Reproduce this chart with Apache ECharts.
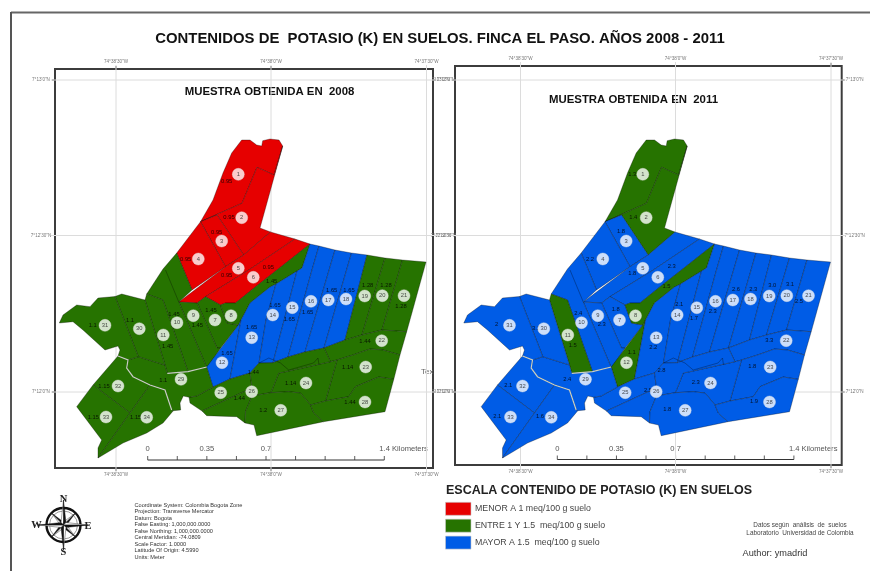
<!DOCTYPE html>
<html>
<head>
<meta charset="utf-8">
<style>
html, body { margin: 0; padding: 0; background: #fff; }
#chart { width: 870px; height: 571px; filter: blur(0.4px); }
</style>
<script src="https://cdn.jsdelivr.net/npm/echarts@6/dist/echarts.min.js"></script>
</head>
<body>
<div id="chart"></div>
<script>
// numero de cada lote (34 lotes)
const sampleIds = [...Array(34).keys()].map(i => String(i + 1));

// contenido de potasio por lote, tal como esta rotulado
const labels2008 = ['0.95','0.95','0.95','0.95','0.95','0.95','1.45','1.45','1.45','1.45','1.45','1.65','1.65','1.65','1.65','1.65','1.65','1.65','1.28','1.28','1.28','1.44','1.14','1.14','1.44','1.44','1.2','1.44','1.1','1.1','1.1','1.15','1.15','1.15'];
const labels2011 = ['1.3','1.4','1.8','2.2','1.8','2.3','1.8','1.5','2.3','2.4','1.5','1.1','2.2','2.1','1.7','2.3','2.6','2.3','3.0','3.1','2.5','3.3','1.8','2.3','2.5','2.8','1.8','1.9','2.4','3.1','2','2.1','2.1','1.6'];

// geometria de los lotes en coordenadas de mapa
const parcelShapes = [
  [[200.5,221.7],[213,200],[223,173],[231.7,153],[241.7,140],[250,140],[256.7,145],[261.7,146],[262.7,140.7],[270,139],[279,140],[282.7,146],[274,175],[257,167.3],[242,203.3]],
  [[200.5,221.7],[242,203.3],[257,167.3],[274,175],[282.7,146],[260,228],[270.5,232],[243.7,255],[217,215]],
  [[200.5,221.7],[217,215],[243.7,255],[225.5,266.7]],
  [[176.7,253],[200.5,221.7],[225.5,266.7],[192,290],[183.8,270]],
  [[178.8,302],[225.5,266.7],[243.7,255],[270.5,232],[295,239],[248.8,270],[205.5,296.7],[197.2,303]],
  [[205.5,296.7],[248.8,270],[295,239],[310,244],[277,270],[255.7,286.7],[235.5,303],[225.5,303],[220.5,305]],
  [[197.2,303],[205.5,296.7],[220.5,305],[227,323],[238.5,325],[220.6,348],[217,348]],
  [[310,244],[302,268],[276,284],[270,287],[250,303],[241,320],[238.5,325],[227,323],[220.5,305],[225.5,303],[235.5,303],[255.7,286.7],[277,270]],
  [[178.8,302],[197.2,303],[217,348],[220.6,348],[207,368]],
  [[146.7,294],[163,300],[188,371.7],[207,368],[178.8,302],[192,290],[183.8,270],[176.7,253],[163,269]],
  [[146.7,294],[145,300],[165,365],[167.3,373.3],[188,371.7],[163,300]],
  [[206.7,367],[238.5,325],[241,320],[230,379],[213,387]],
  [[241,320],[250,303],[270,287],[276,284],[266,320],[259,363],[250,373],[230,379]],
  [[276,284],[297,271],[273,362.7],[259,363],[266,320]],
  [[297,271],[302,268],[310,244],[319,246],[312,270],[288,357],[273,362.7]],
  [[319,246],[335,250],[305,352],[288,357],[312,270]],
  [[335,250],[351.5,253],[324,348],[305,352]],
  [[351.5,253],[367,255],[345,340],[324,348]],
  [[367,255],[385,258],[362,335],[345,340]],
  [[385,258],[402.5,260],[382,330],[362,335]],
  [[402.5,260],[426,262],[406.7,331.7],[382,330]],
  [[382,330],[406.7,331.7],[400,355],[383,350],[370,349],[353,355],[337,360],[330.5,361.7],[324,348],[345,340],[362,335]],
  [[400,355],[383,350],[370,349],[353,355],[337,360],[325.5,401],[348.8,396.7],[355.5,386.7],[378.8,377],[393.8,379.3]],
  [[337,360],[330.5,361.7],[315.5,365],[285.5,371.7],[278.8,373],[272,390],[270.5,392.7],[288.8,391.7],[300.5,393],[310.5,405],[325.5,401]],
  [[213,387],[230,379],[250,373],[252,388],[202,411],[190,403],[189,397.3],[196.7,396]],
  [[250,373],[259,363],[273,362.7],[288,357],[305,352],[324,348],[330.5,361.7],[315.5,365],[285.5,371.7],[278.8,373],[272,390],[270.5,392.7],[252,396],[245.5,411.7],[245,423],[236.7,416.7],[206.7,415.7],[202,411],[252,388]],
  [[270.5,392.7],[288.8,391.7],[300.5,393],[310.5,405],[313.8,413],[323.5,421.7],[256.7,435.7],[254,425],[245,423],[245.5,411.7],[252,396]],
  [[393.8,379.3],[385,411.7],[323.5,421.7],[313.8,413],[310.5,405],[325.5,401],[348.8,396.7],[355.5,386.7],[378.8,377]],
  [[206.7,367],[213,387],[196.7,396],[189,397.3],[183.3,396],[180,403],[180.7,410],[173.3,410.7],[171.7,410],[165,390],[150,385],[133,376.7],[126.7,368],[128,360],[138.3,356.7],[165,365],[167.3,373.3],[188,371.7]],
  [[115,296.5],[121.7,294],[145,300],[165,365],[138.3,356.7]],
  [[59.3,323],[63,315],[76.7,305],[90,306.7],[98,298],[115,296.5],[138.3,356.7],[128,360],[118,356],[120,350],[118,346],[105,350],[83,330],[73,321.7]],
  [[93,385],[118,356],[128,360],[126.7,368],[133,376.7],[150,385],[130,413]],
  [[93,385],[130,413],[98,458],[98,448],[101.7,440],[76.7,406.7]],
  [[130,413],[150,385],[165,390],[171.7,410],[173.3,410.7],[163,423],[146.7,433],[123,443],[98,458]]
];

// linderos internos que no cierran un lote
const innerLines = [
  [[165.5,270],[178.8,302]],
  [[259,363],[268.8,358],[280.5,363],[288.7,370],[313.5,363],[318,358],[319,365]]
];
// vias y quebrada
const roadLines = [
  [[118,356],[128,360],[126.7,368],[133,376.7],[150,385],[165,390],[171.7,410]],
  [[167.3,373.3],[188,371.7],[206.7,367]]
];

// circulos numerados y rotulos de valor
const markerPoints = [[238.3,174.3],[241.7,217.7],[221.7,241],[198.3,259],[238.3,268.3],[253.3,277.3],[215,320],[231,315.7],[193.3,315.7],[177,322.7],[163.3,335],[222,362.7],[251.7,337.7],[272.7,315],[292.3,307.7],[311,301.3],[328.3,300],[346,299],[364.7,296],[382.3,295.7],[404,295.7],[381.7,340.7],[365.7,367],[306,383],[220.7,392.7],[251.7,391.7],[280.7,410.3],[365,402],[181,379.3],[139.3,328.7],[105,325.3],[118,386],[106,417],[146.7,417.3]];
const labelPoints2008 = [[226.7,181],[229,217.7],[216.7,232.3],[185.7,259.3],[226.7,275.7],[268.3,267.3],[211,310],[271.7,281.7],[197.3,325],[174,314.3],[167.7,346],[227,353.3],[251.7,327.3],[275,305],[289.3,319.3],[307.7,312.3],[331.7,290],[349,290],[367.7,285.7],[386,285.7],[401,306.7],[365,341],[347.7,367.3],[290.7,383.3],[239.3,398.3],[253.3,372.7],[263.3,410.7],[350,402.3],[163.3,380],[130,320.7],[92.7,325],[104,386.3],[93.3,417],[135.7,417.3]];
const labelPoints2011 = [[227.8,174.3],[228.8,217.7],[216.5,231.7],[185.5,259],[227.8,273.3],[267.2,266.7],[211.2,309.3],[262,286.7],[197.2,324.3],[173.8,313.3],[168.2,345.3],[227.2,352.3],[248.8,347.3],[274.8,304.3],[289.5,318],[308.2,311.3],[331.5,289],[348.8,289.3],[367.8,285],[385.5,284.3],[394.5,301.7],[364.8,340.7],[347.8,366.7],[291.2,382.7],[243.5,390.7],[257,370],[262.8,409.3],[349.5,401.3],[162.8,379],[131.5,328.7],[92.2,324],[103.8,385.7],[92.8,416.3],[135.5,416.7]];

// reticula y sus rotulos
const graticuleX = [116, 271, 426.5];
const graticuleY = [80, 235.5, 392];
const graticuleXLabels = ['74°38\'30"W', '74°38\'0"W', '74°37\'30"W'];
const graticuleYLabels = ['7°13\'0"N', '7°12\'30"N', '7°12\'0"N'];

// barra de escala (km)
const scaleKm = [0, 0.175, 0.35, 0.525, 0.7, 0.875, 1.05, 1.225, 1.4];
const scaleLabels = { 0: '0', 0.35: '0.35', 0.7: '0.7', 1.4: '1.4 Kilometers' };

const legendItems = ['MENOR A 1 meq/100 g suelo', 'ENTRE 1 Y 1.5  meq/100 g suelo', 'MAYOR A 1.5  meq/100 g suelo'];
const datumLines = ['Coordinate System: Colombia Bogota Zone', 'Projection: Transverse Mercator', 'Datum: Bogota', 'False Easting: 1,000,000.0000', 'False Northing: 1,000,000.0000', 'Central Meridian: -74.0809', 'Scale Factor: 1.0000', 'Latitude Of Origin: 4.5990', 'Units: Meter'];

const RED = '#e60000', GREEN = '#267300', BLUE = '#005ce6';
const FONT = '"Liberation Sans", Arial, sans-serif';

// clase de color segun la escala de la leyenda
function classColor(value) {
  if (value < 1) return RED;
  return value <= 1.5 ? GREEN : BLUE;
}

function polylineSeries(index, lines, color, width, z) {
  return {
    type: 'custom',
    xAxisIndex: index,
    yAxisIndex: index,
    coordinateSystem: 'cartesian2d',
    silent: true,
    clip: false,
    z: z,
    data: lines.map((_, i) => [i]),
    renderItem(params, api) {
      return {
        type: 'polyline',
        shape: { points: lines[api.value(0)].map(p => api.coord(p)) },
        style: { stroke: color, lineWidth: width, fill: null }
      };
    }
  };
}

function panelSeries(index, labels, labelPoints) {
  const graticule = [
    ...graticuleX.map(x => [[x, index ? 62 : 65], [x, index ? 469 : 472]]),
    ...graticuleY.map(y => [[index ? 46 : 51, y], [index ? 441 : 437, y]])
  ];
  return [
    polylineSeries(index, graticule, '#dcdcdc', 1, 1),
    {
      type: 'custom',
      xAxisIndex: index,
      yAxisIndex: index,
      silent: true,
      z: 2,
      data: parcelShapes.map((_, i) => [i]),
      renderItem(params, api) {
        const i = api.value(0);
        return {
          type: 'polygon',
          shape: { points: parcelShapes[i].map(p => api.coord(p)) },
          style: { fill: classColor(parseFloat(labels[i])), stroke: 'rgba(0,0,0,0.6)', lineWidth: 0.5 }
        };
      }
    },
    polylineSeries(index, innerLines, 'rgba(0,0,0,0.6)', 0.5, 3),
    polylineSeries(index, roadLines, '#c9cfc4', 1.2, 3),
    {
      type: 'scatter',
      xAxisIndex: index,
      yAxisIndex: index,
      silent: true,
      z: 4,
      symbolSize: 0,
      data: labelPoints.map((p, i) => ({ value: p, name: labels[i] })),
      label: { show: true, position: 'inside', formatter: '{b}', fontSize: 5.8, fontFamily: FONT, color: '#000' }
    },
    {
      type: 'scatter',
      xAxisIndex: index,
      yAxisIndex: index,
      silent: true,
      z: 5,
      symbolSize: 12,
      itemStyle: { color: '#fff', borderColor: '#e4e4e4', borderWidth: 0.5 },
      data: markerPoints.map((p, i) => ({ value: p, name: sampleIds[i] })),
      label: { show: true, position: 'inside', formatter: '{b}', fontSize: 5.8, fontFamily: FONT, color: '#222' }
    }
  ];
}

function text(x, y, str, size, extra) {
  return {
    type: 'text',
    x: x,
    y: y,
    silent: true,
    style: Object.assign({ text: str, fontSize: size, fontFamily: FONT, fill: '#333', verticalAlign: 'middle' }, extra || {})
  };
}

function line(x1, y1, x2, y2, color, width) {
  return { type: 'line', silent: true, shape: { x1, y1, x2, y2 }, style: { stroke: color, lineWidth: width } };
}

// rosa de los vientos
function compass(cx, cy) {
  const out = [];
  const ray = (angle, len, base) => {
    const a = angle * Math.PI / 180;
    const tip = [cx + len * Math.sin(a), cy - len * Math.cos(a)];
    const l = [cx + base * Math.sin(a - Math.PI / 4), cy - base * Math.cos(a - Math.PI / 4)];
    const r = [cx + base * Math.sin(a + Math.PI / 4), cy - base * Math.cos(a + Math.PI / 4)];
    out.push({ type: 'polygon', silent: true, z: 3, shape: { points: [[cx, cy], l, tip] }, style: { fill: '#fff', stroke: '#111', lineWidth: 0.4 } });
    out.push({ type: 'polygon', silent: true, z: 3, shape: { points: [[cx, cy], r, tip] }, style: { fill: '#111', stroke: '#111', lineWidth: 0.4 } });
  };
  out.push({ type: 'circle', silent: true, z: 2, shape: { cx, cy, r: 17 }, style: { fill: '#fff', stroke: '#111', lineWidth: 2.4 } });
  out.push({ type: 'circle', silent: true, z: 2, shape: { cx, cy, r: 14 }, style: { fill: null, stroke: '#555', lineWidth: 0.6 } });
  [45, 135, 225, 315].forEach(a => ray(a, 17, 3));
  [0, 90, 180, 270].forEach(a => ray(a, 25, 3.5));
  const serif = { fontFamily: '"Liberation Serif", serif', fontWeight: 'bold', fill: '#222', align: 'center' };
  out.push(text(cx, cy - 26, 'N', 10.5, serif), text(cx, cy + 27, 'S', 10.5, serif), text(cx - 27, cy, 'W', 10.5, serif), text(cx + 24.5, cy + 1, 'E', 10.5, serif));
  return out;
}

function scaleBar(x0, y0) {
  const out = [line(x0, y0, x0 + 236.6, y0, '#333', 1)];
  scaleKm.forEach(km => {
    const x = x0 + km * 169;
    out.push(line(x, y0 - 4, x, y0, '#333', 0.8));
    if (scaleLabels[km]) {
      const long = km === 1.4;
      out.push(text(long ? x - 5 : x, y0 - 11, scaleLabels[km], 7.6, { fill: '#555', align: long ? 'left' : 'center' }));
    }
  });
  return out;
}

function graticuleText(offX, top, bottom, left, right) {
  const out = [];
  const grey = { fill: '#777', align: 'center' };
  graticuleX.forEach((x, i) => {
    out.push(text(x + offX, top - 7, graticuleXLabels[i], 4.6, grey));
    out.push(text(x + offX, bottom + 7, graticuleXLabels[i], 4.6, grey));
    out.push(line(x + offX, top - 3, x + offX, top, '#333', 1));
    out.push(line(x + offX, bottom, x + offX, bottom + 3, '#333', 1));
  });
  graticuleY.forEach((y, i) => {
    out.push(text(left - 14, y, graticuleYLabels[i], 4.6, grey));
    out.push(text(right + 13, y, graticuleYLabels[i], 4.6, grey));
    out.push(line(left - 3, y, left, y, '#333', 1));
    out.push(line(right, y, right + 3, y, '#333', 1));
  });
  return out;
}

const elements = [
  // marco de la pagina
  line(11, 12.5, 870, 12.5, '#666', 2),
  line(11, 12, 11, 571, '#555', 2),
  text(440, 38.5, 'CONTENIDOS DE  POTASIO (K) EN SUELOS. FINCA EL PASO. AÑOS 2008 - 2011', 14.9, { fontWeight: 'bold', fill: '#111', align: 'center' }),
  text(269.5, 92, 'MUESTRA OBTENIDA EN  2008', 11.4, { fontWeight: 'bold', fill: '#111', align: 'center' }),
  text(633.5, 100, 'MUESTRA OBTENIDA EN  2011', 11.4, { fontWeight: 'bold', fill: '#111', align: 'center' }),
  text(421, 371.5, 'Tex', 8, { fill: '#666' }),
  ...graticuleText(0, 69, 468, 55, 433),
  ...graticuleText(404.5, 66, 465, 455, 841.7),
  ...scaleBar(147.7, 460),
  ...scaleBar(557.3, 459.5),
  ...compass(63.5, 525),
  ...datumLines.map((t, i) => text(134.5, 505 + i * 6.55, t, 5.6, { fill: '#333' })),
  text(446, 490.5, 'ESCALA CONTENIDO DE POTASIO (K) EN SUELOS', 12.5, { fontWeight: 'bold', fill: '#222' }),
  ...legendItems.map((t, i) => ({
    type: 'rect',
    silent: true,
    shape: { x: 445.5, y: 502.3 + i * 16.9, width: 25.5, height: 13 },
    style: { fill: [RED, GREEN, BLUE][i], stroke: '#c8c8c8', lineWidth: 0.6 }
  })),
  ...legendItems.map((t, i) => text(475, 509 + i * 17, t, 8.8, { fill: '#444' })),
  text(800, 525, 'Datos según  análisis  de  suelos', 6.4, { fill: '#444', align: 'center' }),
  text(800, 533, 'Laboratorio  Universidad de Colombia', 6.4, { fill: '#444', align: 'center' }),
  text(742.5, 553, 'Author: ymadrid', 9.2, { fill: '#333' })
];

const chart = echarts.init(document.getElementById('chart'));
const frame = { show: true, borderColor: '#3c3c3c', borderWidth: 2, backgroundColor: 'transparent' };
chart.setOption({
  animation: false,
  backgroundColor: '#fff',
  grid: [
    Object.assign({ left: 55, top: 69, width: 378, height: 399 }, frame),
    Object.assign({ left: 455, top: 66, width: 386.7, height: 399 }, frame)
  ],
  xAxis: [
    { type: 'value', gridIndex: 0, min: 55, max: 433, show: false },
    { type: 'value', gridIndex: 1, min: 50.5, max: 437.2, show: false }
  ],
  yAxis: [
    { type: 'value', gridIndex: 0, min: 69, max: 468, inverse: true, show: false },
    { type: 'value', gridIndex: 1, min: 66, max: 465, inverse: true, show: false }
  ],
  series: [
    ...panelSeries(0, labels2008, labelPoints2008),
    ...panelSeries(1, labels2011, labelPoints2011)
  ],
  graphic: { elements: elements }
});
</script>
</body>
</html>
